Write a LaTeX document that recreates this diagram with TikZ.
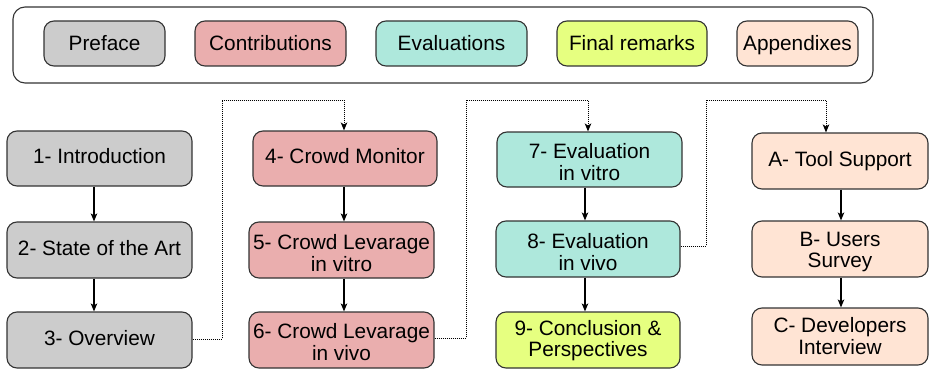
\documentclass[tikz,border=0pt]{standalone}
\usepackage{fontspec}
\setmainfont{Liberation Sans}
\usetikzlibrary{arrows.meta}
\definecolor{cgray}{RGB}{204,204,204}
\definecolor{cpink}{RGB}{234,174,174}
\definecolor{cteal}{RGB}{174,232,220}
\definecolor{clime}{RGB}{230,255,128}
\definecolor{cpeach}{RGB}{255,228,212}
\definecolor{cline}{RGB}{51,51,51}
\tikzset{
  chapter/.style={draw=cline, line width=1.1pt, rounded corners=10pt,
    minimum height=56pt, inner sep=0pt, align=center,
    font=\fontsize{20.8}{21.5}\selectfont},
  oneline/.style={text height=15pt, text depth=4.4pt},
  twoline/.style={text height=#1, text depth=0pt},
  legendbox/.style={chapter, text height=14.3pt, text depth=0pt, minimum height=45pt},
  flow/.style={line width=1.2pt, -{Stealth[length=8pt,width=6.5pt,inset=2pt]}},
  jump/.style={line width=1pt, dash pattern=on 1pt off 1pt,
    -{Stealth[length=8pt,width=6.5pt,inset=2pt]}}
}
\begin{document}
\begin{tikzpicture}[x=1pt,y=-1pt]
\useasboundingbox (0,0) rectangle (929,369);

% legend
\draw[cline, line width=1.1pt, rounded corners=12pt] (13,7) rectangle (873,83);
\node[legendbox, fill=cgray,  minimum width=121pt] (lpre) at (104.5,43.5) {Preface};
\node[legendbox, fill=cpink,  minimum width=151pt] (lcon) at (270.5,43.5) {Contributions};
\node[legendbox, fill=cteal,  minimum width=151pt] (leva) at (451.5,43.5) {Evaluations};
\node[legendbox, fill=clime,  minimum width=150pt] (lfin) at (632,43.5) {Final remarks};
\node[legendbox, fill=cpeach, minimum width=121pt] (lapp) at (797.5,43.5) {Appendixes};

% preface chapters
\node[chapter, oneline, fill=cgray, minimum width=185pt, minimum height=55pt] (c1) at (99.5,158.5) {1- Introduction};
\node[chapter, oneline, fill=cgray, minimum width=185pt] (c2) at (99.5,250) {2- State of the Art};
\node[chapter, oneline, fill=cgray, minimum width=185pt] (c3) at (99.5,340) {3- Overview};

% contributions
\node[chapter, oneline, fill=cpink, minimum width=184pt, minimum height=55pt] (c4) at (345,158.5) {4- Crowd Monitor};
\node[chapter, twoline=42.5pt, fill=cpink, minimum width=185pt] (c5) at (341.5,250) {5- Crowd Levarage\\in vitro};
\node[chapter, twoline=40.5pt, fill=cpink, minimum width=185pt] (c6) at (341.5,340) {6- Crowd Levarage\\in vivo};

% evaluations and final remarks
\node[chapter, twoline=41.5pt, fill=cteal, minimum width=185pt, minimum height=55pt] (c7) at (589.5,159.5) {7- Evaluation\\in vitro};
\node[chapter, twoline=42pt, fill=cteal, minimum width=184pt] (c8) at (588,249) {8- Evaluation\\in vivo};
\node[chapter, twoline=33pt, fill=clime, minimum width=184pt] (c9) at (588,340) {9- Conclusion \&\\Perspectives};

% appendixes
\node[chapter, oneline, fill=cpeach, minimum width=176pt] (ca) at (840,161) {A- Tool Support};
\node[chapter, twoline=37pt, fill=cpeach, minimum width=176pt] (cb) at (840,249) {B- Users\\Survey};
\node[chapter, twoline=35pt, fill=cpeach, minimum width=176pt, minimum height=57pt] (cc) at (840,336.5) {C- Developers\\Interview};

% reading order inside each part
\draw[flow] ([xshift=-5.5pt]c1.south) -- ([xshift=-5.5pt]c2.north);
\draw[flow] ([xshift=-5.5pt]c2.south) -- ([xshift=-5.5pt]c3.north);
\draw[flow] ([xshift=-1pt]c4.south) -- ([xshift=2.5pt]c5.north);
\draw[flow] ([xshift=2.5pt]c5.south) -- ([xshift=2.5pt]c6.north);
\draw[flow] ([xshift=-4.5pt]c7.south) -- ([xshift=-3pt]c8.north);
\draw[flow] ([xshift=-3pt]c8.south) -- ([xshift=-3pt]c9.north);
\draw[flow] ([xshift=1pt]ca.south) -- ([xshift=1pt]cb.north);
\draw[flow] ([xshift=1pt]cb.south) -- ([xshift=1pt]cc.north);

% jumps from one part to the next
\coordinate (k1) at (222,100);
\coordinate (k2) at (466,100);
\coordinate (k3) at (706,100);
\draw[jump] ([yshift=1pt]c3.east) -| (k1) -| ([xshift=-1pt]c4.north);
\draw[jump] ([yshift=2pt]c6.east) -| (k2) -| ([xshift=-1.5pt]c7.north);
\draw[jump] ([yshift=3pt]c8.east) -| (k3) -| ([xshift=-14pt]ca.north);
\end{tikzpicture}
\end{document}
